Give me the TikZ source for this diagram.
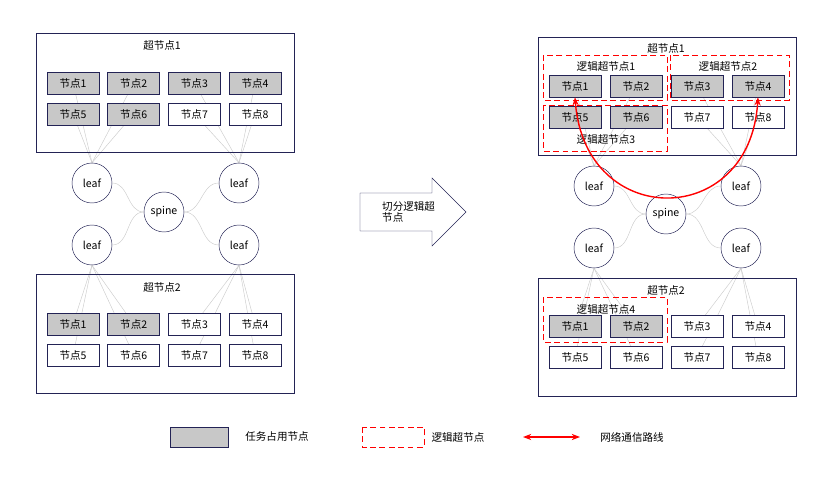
\documentclass[tikz,border=0pt]{standalone}
\usepackage{fontspec}
\setmainfont{Noto Sans CJK SC}
\usetikzlibrary{arrows.meta,backgrounds}
\definecolor{navy}{RGB}{35,35,85}
\definecolor{taskgray}{RGB}{200,200,200}
\definecolor{linkgray}{RGB}{205,205,205}
\tikzset{
  pc/.style={draw=navy, fill=white, minimum width=1.56cm, minimum height=0.66cm, inner sep=0pt, font=\fontsize{9}{10}\selectfont},
  task/.style={pc, fill=taskgray},
  free/.style={pc},
  sw/.style={circle, draw=navy, fill=white, minimum size=1.2cm, inner sep=0pt, font=\fontsize{9}{10}\selectfont},
  supbox/.style={draw=navy, semithick},
  lsn/.style={draw=red, dashed, dash pattern=on 5pt off 3pt},
  link/.style={draw=linkgray, thin},
  lbl/.style={font=\fontsize{9}{10}\selectfont, inner sep=0pt},
}
\begin{document}
\begin{tikzpicture}[x=0.03cm, y=-0.03cm]
\useasboundingbox (0,0) rectangle (832,481);

% Left super nodes
\draw[supbox] (36,33) rectangle (294,152);
\node[lbl] (LT1) at (162,46) {超节点1};
\foreach \i/\s in {1/task,2/task,3/task,4/task,5/task,6/task,7/free,8/free} {
  \pgfmathtruncatemacro\c{mod(\i-1,4)}
  \pgfmathtruncatemacro\r{int((\i-1)/4)}
  \node[\s] (L1n\i) at (73+60.7*\c, 83+31*\r) {节点\i};
}
\draw[supbox] (36,274) rectangle (294,393);
\node[lbl] (LT2) at (162,287) {超节点2};
\foreach \i/\s in {1/task,2/task,3/free,4/free,5/free,6/free,7/free,8/free} {
  \pgfmathtruncatemacro\c{mod(\i-1,4)}
  \pgfmathtruncatemacro\r{int((\i-1)/4)}
  \node[\s] (L2n\i) at (73+60.7*\c, 324+31*\r) {节点\i};
}
\node[sw] (Lla) at (92,183) {leaf};
\node[sw] (Llb) at (239,183) {leaf};
\node[sw] (Llc) at (92,245) {leaf};
\node[sw] (Lld) at (239,245) {leaf};
\node[sw] (Ls) at (164,212) {spine};

% Right super nodes
\draw[supbox] (538,37) rectangle (796,155);
\node[lbl] (RT1) at (666,49) {超节点1};
\foreach \i/\s in {1/task,2/task,3/task,4/task,5/task,6/task,7/free,8/free} {
  \pgfmathtruncatemacro\c{mod(\i-1,4)}
  \pgfmathtruncatemacro\r{int((\i-1)/4)}
  \node[\s] (R1n\i) at (575+61*\c, 86+31*\r) {节点\i};
}
\draw[supbox] (538,278) rectangle (796,396);
\node[lbl] (RT2) at (666,290) {超节点2};
\foreach \i/\s in {1/task,2/task,3/free,4/free,5/free,6/free,7/free,8/free} {
  \pgfmathtruncatemacro\c{mod(\i-1,4)}
  \pgfmathtruncatemacro\r{int((\i-1)/4)}
  \node[\s] (R2n\i) at (575+61*\c, 326+31*\r) {节点\i};
}
\node[sw] (Rla) at (594,186) {leaf};
\node[sw] (Rlb) at (741,186) {leaf};
\node[sw] (Rlc) at (594,248) {leaf};
\node[sw] (Rld) at (741,248) {leaf};
\node[sw] (Rs) at (666,214) {spine};

% Links behind
\begin{scope}[on background layer]
  \foreach \p in {L,R} {
    \foreach \n in {1,2,5,6} {
      \draw[link] (\p la.north) -- (\p1n\n.center);
      \draw[link] (\p lc.south) -- (\p2n\n.center);
    }
    \foreach \n in {3,4,7,8} {
      \draw[link] (\p lb.north) -- (\p1n\n.center);
      \draw[link] (\p ld.south) -- (\p2n\n.center);
    }
    \draw[link] (\p la.east) to[out=0,in=180] (\p s.west);
    \draw[link] (\p lc.east) to[out=0,in=180] (\p s.west);
    \draw[link] (\p lb.west) to[out=180,in=0] (\p s.east);
    \draw[link] (\p ld.west) to[out=180,in=0] (\p s.east);
  }
\end{scope}

% Logical super nodes
\draw[lsn] (543,55) rectangle (667,100);
\node[lbl] (LS1) at (606,67) {逻辑超节点1};
\draw[lsn] (670,55) rectangle (789,100);
\node[lbl] (LS2) at (728,67) {逻辑超节点2};
\draw[lsn] (543,105) rectangle (667,151);
\node[lbl] (LS3) at (606,139) {逻辑超节点3};
\draw[lsn] (543,297) rectangle (667,342);
\node[lbl] (LS4) at (606,309) {逻辑超节点4};

% Communication route
\draw[red, very thick, {Stealth[length=7pt]}-{Stealth[length=7pt]}] (R1n1.south) .. controls (585,230) and (750,230) .. (R1n4.south);

% Split arrow
\draw[navy, fill=white] (360,193) -- (432,193) -- (432,178) -- (466,212) -- (432,246) -- (432,231) -- (360,231) -- cycle;
\node[lbl, anchor=west, align=left] (split) at (382,212) {切分逻辑超\\节点};

% Legend
\draw[draw=navy, fill=taskgray] (170,427) rectangle (228,447);
\node[lbl] (lg1) at (277,437) {任务占用节点};
\draw[lsn] (362,427) rectangle (424,447);
\node[lbl] (lg2) at (458,437) {逻辑超节点};
\coordinate (ra) at (523,437);
\coordinate (rb) at (580,437);
\draw[red, very thick, {Stealth[length=7pt]}-{Stealth[length=7pt]}] (ra) -- (rb);
\node[lbl] (lg3) at (632,437) {网络通信路线};
\end{tikzpicture}
\end{document}
